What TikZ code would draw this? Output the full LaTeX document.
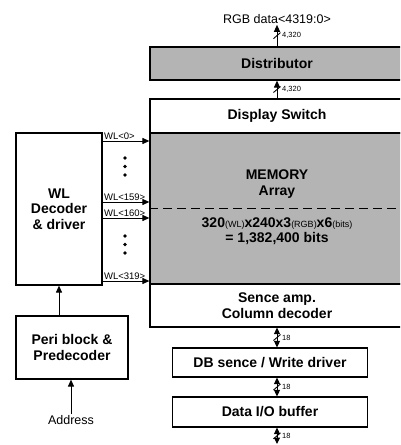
\documentclass[tikz,border=0pt]{standalone}
\usepackage{fontspec}
\setmainfont{Liberation Sans}
\usetikzlibrary{arrows.meta}
\definecolor{memgray}{RGB}{180,180,180}
\newcommand{\sm}[1]{{\fontsize{9}{9}\selectfont\mdseries #1}}
\newcommand{\bw}[2]{\draw[line width=0.9pt] ([shift={(-3.5,3)}]#1) -- ([shift={(3.5,-3)}]#1); \node[bwlbl] at ([xshift=5pt]#1) {#2};}

\begin{document}
\begin{tikzpicture}[x=1pt,y=-1pt,
    blk/.style={draw, line width=1.2pt, inner sep=0pt, align=center, font=\fontsize{14}{15.5}\selectfont\bfseries},
    shade/.style={blk, fill=memgray},
    txt/.style={inner sep=1pt, align=center, font=\fontsize{14}{15.5}\selectfont\bfseries},
    lbl/.style={inner sep=1pt, font=\fontsize{12.5}{14}\selectfont},
    wllbl/.style={inner sep=1pt, font=\fontsize{9.5}{10}\selectfont},
    bwlbl/.style={inner sep=0pt, anchor=west, font=\fontsize{7.5}{8}\selectfont},
    arr/.style={line width=1pt, -{Triangle[length=7pt,width=6pt]}},
    bus/.style={line width=1pt, {Triangle[length=6.5pt,width=6pt]}-{Triangle[length=6.5pt,width=6pt]}}]
    \useasboundingbox (0,0) rectangle (400,445);
    \clip (0,0) rectangle (400,445);
    \node[shade, minimum width=254pt, minimum height=33pt] (dist) at (277,63.5) {Distributor};
    \node[blk, minimum width=254pt, minimum height=34pt] (dsw) at (277,116) {Display Switch};
    \node[shade, minimum width=254pt, minimum height=151pt] (mem) at (277,208.5) {};
    \node[blk, minimum width=254pt, minimum height=43pt] (sa) at (277,305.5) {Sence amp.\\Column decoder};
    \draw[line width=1pt, dash pattern=on 9pt off 5pt] (mem.west) -- (mem.east);
    \node[txt] (memname) at (277,184) {MEMORY\\Array};
    \node[txt] (memsize) at (277,231) {320\sm{(WL)}x240x3\sm{(RGB)}x6\sm{(bits)}\\= 1,382,400 bits};
    \node[blk, minimum width=86pt, minimum height=152pt] (wld) at (59,209) {WL\\Decoder\\\& driver};
    \node[blk, minimum width=112pt, minimum height=63pt] (peri) at (72,347.5) {Peri block \&\\Predecoder};
    \node[blk, minimum width=195pt, minimum height=29pt] (dbw) at (270,362.5) {DB sence / Write driver};
    \node[blk, minimum width=195pt, minimum height=30pt] (dio) at (270,412) {Data I/O buffer};
    \node[lbl] (addr) at (71,420) {Address};
    \node[lbl] (rgb) at (277,19) {RGB data<4319:0>};
    \coordinate (dout) at (277,444);

    \foreach \y/\n in {141/0,202/159,218/160,281/319}
        \draw[arr] (wld.east |- 0,\y) -- (mem.west |- 0,\y) node[wllbl, pos=0, anchor=south west] {WL<\n>};
    \foreach \y in {158,166.5,175,236,244.5,253}
        \fill (125,\y) circle (1.8);

    \draw[arr] (addr.north) -- (addr.north |- peri.south);
    \draw[arr] (peri.north -| wld.south) -- (wld.south);
    \draw[arr] (dist.north) -- (rgb.south) coordinate[midway] (b1);
    \bw{b1}{4,320}
    \draw[arr] (dsw.north) -- (dist.south) coordinate[midway] (b2);
    \bw{b2}{4,320}
    \draw[bus] (sa.south) -- (dbw.north -| sa.south) coordinate[midway] (b3);
    \bw{b3}{18}
    \draw[bus] (dbw.south -| sa.south) -- (dio.north -| sa.south) coordinate[midway] (b4);
    \bw{b4}{18}
    \draw[bus] (dio.south -| sa.south) -- (dout) coordinate[midway] (b5);
    \bw{b5}{18}
\end{tikzpicture}
\end{document}
